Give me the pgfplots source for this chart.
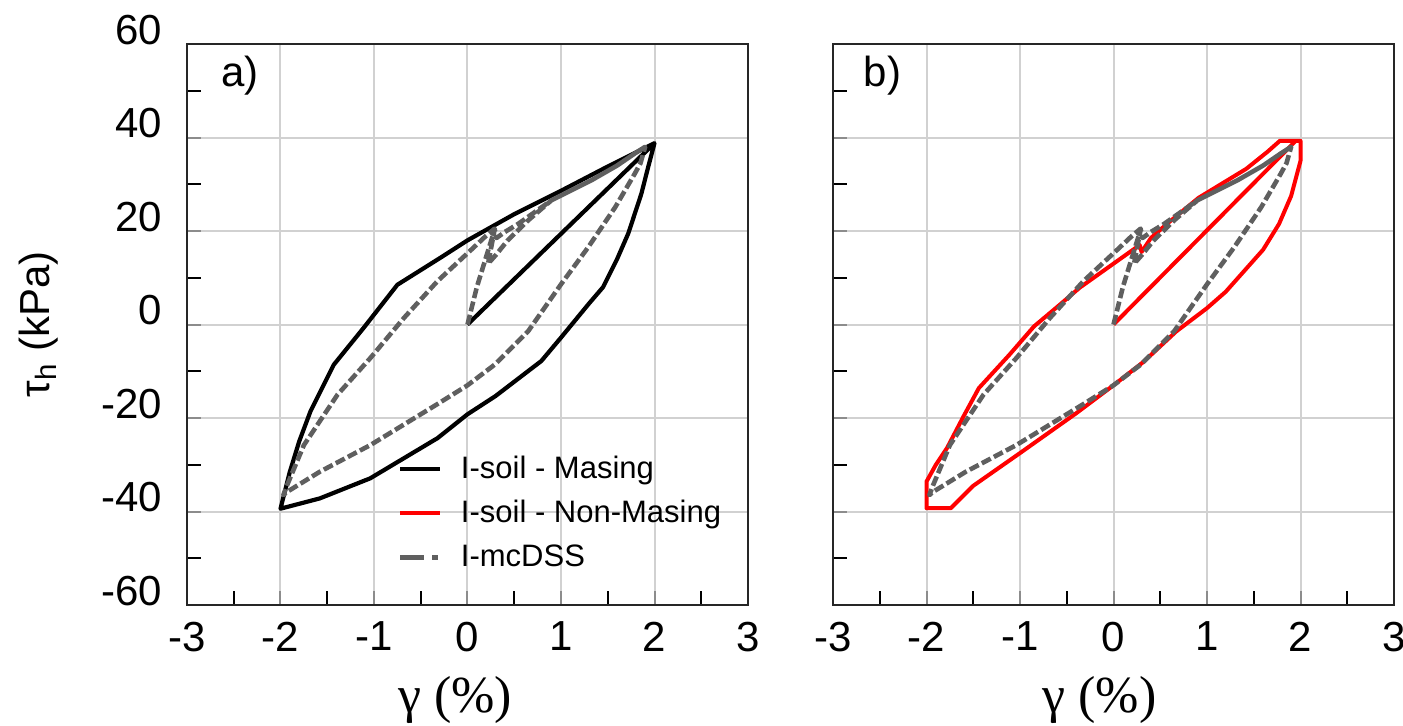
\documentclass[border=0pt]{standalone}
\usepackage{fontspec}
\setmainfont{Liberation Sans}
\newfontfamily\serifx{Liberation Serif}
\usepackage{pgfplots}
\pgfplotsset{compat=1.18}
\definecolor{dssgray}{RGB}{95,95,95}
\pgfplotsset{
 panel/.style={
  width=280.5pt, height=280.5pt, scale only axis,
  xmin=-3,xmax=3,ymin=-60,ymax=60,
  xtick={-3,-2,-1,0,1,2,3}, xticklabels={-3,-2,-1,0,1,2,3},
  ytick={-60,-40,-20,0,20,40,60},
  minor xtick={-2.5,-1.5,-0.5,0.5,1.5,2.5}, minor ytick={-50,-30,-10,10,30,50},
  tick pos=left, tick align=inside,
  grid=major, major grid style={draw=black!18, line width=1pt},
  major tick length=7pt, minor tick length=7pt,
  major tick style={draw=black!45,line width=1pt},
  minor tick style={draw=black,line width=1pt},
  axis line style={draw=black!85,line width=1.2pt},
  ticklabel style={font=\fontsize{21}{21}\selectfont},
  xticklabel style={yshift=-5pt},
  yticklabel style={xshift=-9pt, yshift=7pt},
  xlabel={γ (\%)},
  xlabel style={font=\serifx\fontsize{26}{26}\selectfont, at={(axis description cs:0.478,-0.169)}, anchor=center},
 },
 mas/.style={black, line width=2.1pt, line join=round},
 nonmas/.style={red, line width=2pt, line join=round},
 dss/.style={draw=dssgray, line width=2.3pt, dash pattern=on 5pt off 1.8pt, line join=round},
}
\begin{document}
\begin{tikzpicture}
\path[use as bounding box] (-93.5pt,-60pt) rectangle (608pt,302.5pt);
% ---------------- panel a ----------------
\begin{axis}[panel, at={(0pt,0pt)},
  yticklabels={-60,-40,-20,0,20,40,60},
  ylabel={τ\textsubscript{h} (kPa)},
  ylabel style={font=\fontsize{21}{21}\selectfont, at={(axis description cs:-0.265,0.5)}, anchor=center},
  legend style={draw=none, fill=none, at={(axis cs:-0.75,-27.2)}, anchor=north west,
     font=\fontsize{15.5}{15.5}\selectfont, row sep=5.5pt, inner sep=0pt,
     nodes={inner xsep=9pt}},
  legend cell align=left,
  legend image code/.code={\draw[#1] (0pt,0pt) -- (20pt,0pt);},
]
\addplot[mas] coordinates {
 (0,0) (2,38.8)
 (1.93,33.5) (1.86,28) (1.72,19.5) (1.6,14) (1.45,8) (1.3,4.5) (1.0,-2.8) (0.79,-7.8)
 (0.3,-15.3) (0,-19.2) (-0.32,-24.3) (-1.04,-32.9) (-1.58,-37.2) (-2,-39.4)
 (-1.9,-31.5) (-1.8,-25) (-1.68,-18.6) (-1.43,-8.6) (-1.11,-0.7) (-0.75,8.5)
 (-0.28,14.4) (0,18) (0.5,23.6) (1,28.6) (1.5,33.8) (2,38.8)
};
\addlegendentry{I-soil - Masing}
\addlegendimage{nonmas}
\addlegendentry{I-soil - Non-Masing}
\addplot[dss, legend image code/.code={\draw[draw=dssgray,line width=2.6pt,dash pattern=on 12pt off 4pt on 3pt off 3pt] (0pt,0pt) -- (20pt,0pt);}] coordinates {
 (0,0) (0.1,8) (0.2,14.5) (0.29,20.3) (0.22,13) (0.3,14.8) (0.43,18) (0.65,22.3)
 (0.9,26.6) (1.33,30.9) (1.6,34) (1.79,36.6) (1.9,38)
 (1.85,34.5) (1.79,32.3) (1.58,25.1) (1.29,16.5) (1.0,8.6) (0.65,-1.4) (0.29,-8.6)
 (0,-13) (-0.32,-17) (-1.04,-25.8) (-1.58,-31.5) (-1.93,-35.8) (-1.97,-36.5)
 (-1.93,-34.4) (-1.75,-25.8) (-1.39,-15) (-1.04,-7.2) (-0.68,1.4) (-0.32,9.3)
 (0.03,15.8) (0.2,19) (0.29,20.5) (0.31,18.5) (0.4,19.8) (0.54,21.5) (0.9,26.6)
 (1.33,30.9) (1.6,34) (1.79,36.6) (1.9,38)
};
\addlegendentry{I-mcDSS}
\node[font=\fontsize{21}{21}\selectfont] at (axis cs:-2.43,53.3) {a)};
\end{axis}
% ---------------- panel b ----------------
\begin{axis}[panel, at={(323pt,0pt)}, yticklabels={},
  xlabel style={at={(axis description cs:0.475,-0.169)}},
]
\addplot[nonmas] coordinates {
 (0,0) (1.95,39.3) (2.0,39.3) (2.0,35) (1.9,27.5) (1.77,21.5) (1.6,16) (1.4,11.5)
 (1.2,7) (1.0,3.5) (0.67,-1.5) (0.32,-8) (0,-13) (-0.4,-19) (-1,-27.5) (-1.5,-34.5)
 (-1.74,-39.3) (-2,-39.3) (-2,-33.6) (-1.9,-30) (-1.78,-26.4) (-1.6,-19.5) (-1.44,-13.6)
 (-1.11,-6.4) (-0.85,-0.4) (-0.6,3.8) (-0.36,7.9) (0.28,17) (0.3,15.5) (0.4,18.5)
 (0.57,21.5) (0.91,27.1) (1.42,33.3) (1.65,37) (1.78,39.3) (2.0,39.3)
};
\addplot[dss] coordinates {
 (0,0) (0.1,8) (0.2,14.5) (0.29,20.3) (0.22,13) (0.3,14.8) (0.43,18) (0.65,22.3)
 (0.9,26.6) (1.33,30.9) (1.6,34) (1.79,36.6) (1.9,38)
 (1.85,34.5) (1.79,32.3) (1.58,25.1) (1.29,16.5) (1.0,8.6) (0.65,-1.4) (0.29,-8.6)
 (0,-13) (-0.32,-17) (-1.04,-25.8) (-1.58,-31.5) (-1.93,-35.8) (-1.97,-36.5)
 (-1.93,-34.4) (-1.75,-25.8) (-1.39,-15) (-1.04,-7.2) (-0.68,1.4) (-0.32,9.3)
 (0.03,15.8) (0.2,19) (0.29,20.5) (0.31,18.5) (0.4,19.8) (0.54,21.5) (0.9,26.6)
 (1.33,30.9) (1.6,34) (1.79,36.6) (1.9,38)
};
\node[font=\fontsize{21}{21}\selectfont] at (axis cs:-2.47,53.3) {b)};
\end{axis}
\end{tikzpicture}
\end{document}
